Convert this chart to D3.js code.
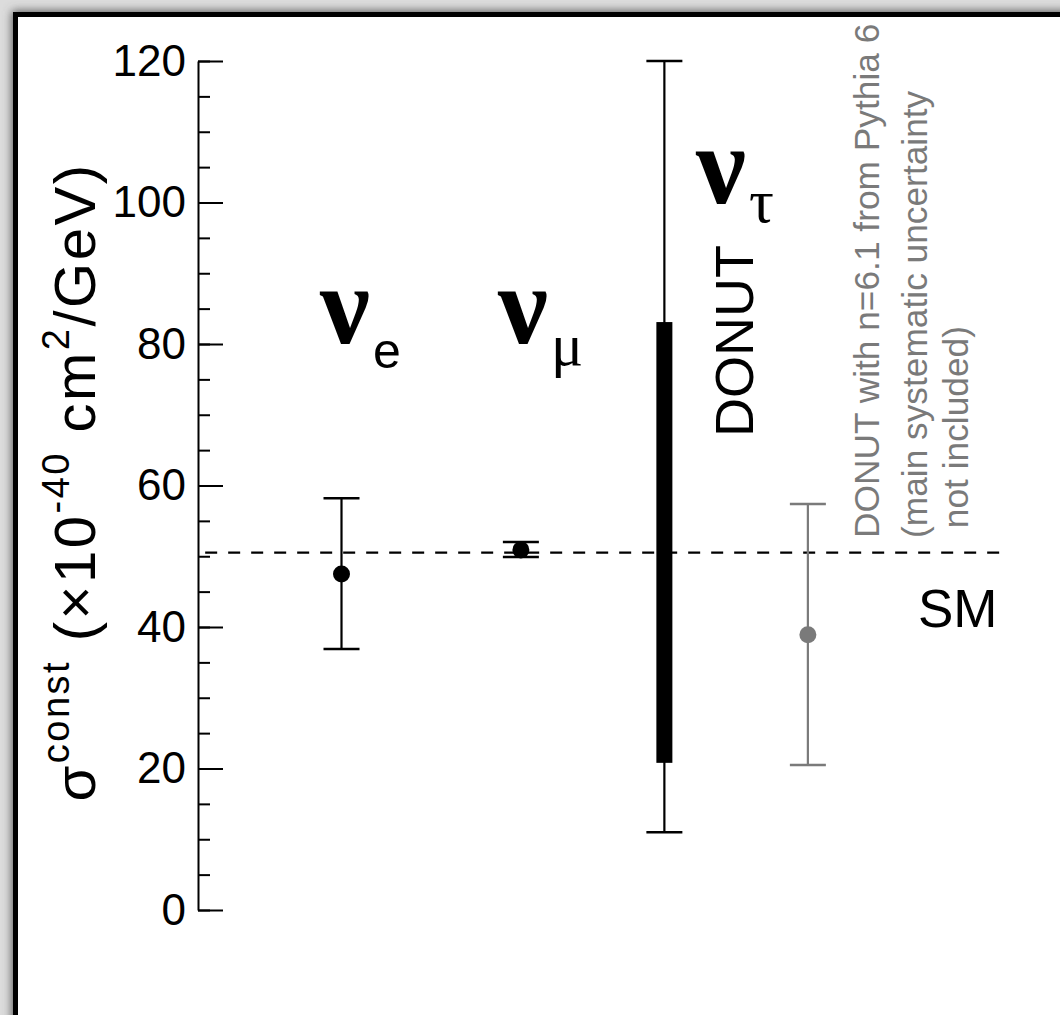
<!DOCTYPE html>
<html>
<head>
<meta charset="utf-8">
<script src="https://cdn.jsdelivr.net/npm/d3@7"></script>
<style>
body { margin: 0; background: #dcdcdc; overflow: hidden; }
text { font-family: "Liberation Sans", Arial, Helvetica, sans-serif; }
</style>
</head>
<body>
<script>
// ---- data ----
var flavours   = ["e", "mu", "tau", "donut_pythia"];
var xPos       = [1, 2.25, 3.25, 4.25];
var central    = [47.5, 50.9, null, 38.9];
var errLow     = [36.9, 49.9, 11.0, 20.5];
var errHigh    = [58.2, 52.0, 120.0, 57.4];
var tauBand    = [20.8, 83.1];      // thick bar on nu_tau
var smValue    = 50.5;
var majorTicks = [0, 20, 40, 60, 80, 100, 120];
var minorTicks = d3.range(0, 121, 5);

var W = 1060, H = 1015;

var svg = d3.select("body").append("svg")
    .attr("width", W)
    .attr("height", H);

// shadow + frame
var defs = svg.append("defs");
var f = defs.append("filter").attr("id", "shadow")
    .attr("x", "-5%").attr("y", "-5%").attr("width", "110%").attr("height", "110%");
f.append("feGaussianBlur").attr("stdDeviation", 5);

svg.append("rect")
    .attr("x", 12).attr("y", 11)
    .attr("width", 1100).attr("height", 1100)
    .attr("fill", "#555")
    .attr("filter", "url(#shadow)");
svg.append("rect")
    .attr("x", 15.5).attr("y", 14.5)
    .attr("width", 1100).attr("height", 1100)
    .attr("fill", "#fff")
    .attr("stroke", "#000")
    .attr("stroke-width", 5);

// scales
var y = d3.scaleLinear().domain([0, 120]).range([910, 61]);
var x = d3.scaleLinear().domain([0, 5.6]).range([198, 198 + 5.6 * 143.5]);

// minor ticks
svg.append("g")
    .attr("transform", "translate(" + x(0) + ",0)")
    .call(d3.axisLeft(y).tickValues(minorTicks).tickSizeInner(-12).tickSizeOuter(0).tickFormat(""))
    .call(function(g) {
        g.select(".domain").remove();
        g.selectAll("line").attr("stroke-width", 2);
    });

// major ticks + labels
svg.append("g")
    .attr("transform", "translate(" + x(0) + ",0)")
    .call(d3.axisLeft(y).tickValues(majorTicks).tickSizeInner(-25).tickSizeOuter(0).tickPadding(12))
    .call(function(g) {
        g.select(".domain").attr("stroke-width", 2);
        g.selectAll("line").attr("stroke-width", 2);
        g.selectAll("text")
            .attr("font-size", 44)
            .attr("fill", "#000")
            .style("font-family", "'Liberation Sans', Arial, sans-serif");
    });

// y axis title
var yt = svg.append("text")
    .attr("transform", "translate(95," + 482 + ") rotate(-90)")
    .attr("text-anchor", "middle")
    .attr("letter-spacing", 2.5)
    .attr("font-size", 58);
yt.append("tspan").text("\u03c3");
yt.append("tspan").attr("font-size", 38).attr("dy", -26).text("const");
yt.append("tspan").attr("dy", 26).text(" (\u00d710");
yt.append("tspan").attr("font-size", 38).attr("dy", -26).text("-40");
yt.append("tspan").attr("dy", 26).text(" cm");
yt.append("tspan").attr("font-size", 38).attr("dy", -26).text("2");
yt.append("tspan").attr("dy", 26).text("/GeV)");

// SM dashed line
svg.append("line")
    .attr("x1", x(0.05)).attr("x2", x(5.6))
    .attr("y1", y(smValue)).attr("y2", y(smValue))
    .attr("stroke", "#000")
    .attr("stroke-width", 2.2)
    .attr("stroke-dasharray", "12,11");

svg.append("text")
    .attr("x", 918).attr("y", y(smValue) + 74)
    .attr("font-size", 53)
    .text("SM");

// error bars
var colors = ["#000", "#000", "#000", "#7a7a7a"];
var capHalf = 18;
flavours.forEach(function(d, i) {
    var cx = x(xPos[i]);
    var g = svg.append("g").attr("stroke", colors[i]).attr("fill", colors[i]);
    g.append("line")
        .attr("x1", cx).attr("x2", cx)
        .attr("y1", y(errLow[i])).attr("y2", y(errHigh[i]))
        .attr("stroke-width", 2.2);
    [errLow[i], errHigh[i]].forEach(function(v) {
        g.append("line")
            .attr("x1", cx - capHalf).attr("x2", cx + capHalf)
            .attr("y1", y(v)).attr("y2", y(v))
            .attr("stroke-width", 2.5);
    });
    if (central[i] !== null) {
        g.append("circle")
            .attr("cx", cx).attr("cy", y(central[i]))
            .attr("r", 8.5)
            .attr("stroke", "none");
    }
});

// thick band for nu_tau
svg.append("rect")
    .attr("x", x(xPos[2]) - 8).attr("width", 16)
    .attr("y", y(tauBand[1]))
    .attr("height", y(tauBand[0]) - y(tauBand[1]))
    .attr("fill", "#000");

// flavour labels
function nuLabel(xc, yb, sub, subSerif, subDy, subSize) {
    var t = svg.append("text").attr("x", xc).attr("y", yb);
    t.append("tspan")
        .style("font-family", "'Liberation Serif', 'Times New Roman', serif")
        .attr("font-size", 112)
        .attr("font-weight", "bold")
        .text("\u03bd");
    t.append("tspan")
        .attr("dx", 3)
        .attr("dy", subDy)
        .attr("font-size", subSize)
        .style("font-family", subSerif ? "'Liberation Serif', 'Times New Roman', serif" : "'Liberation Sans', Arial, sans-serif")
        .text(sub);
}
nuLabel(320, 343, "e", false, 25, 50);
nuLabel(498, 343, "\u03bc", true, 22, 60);
nuLabel(696, 203, "\u03c4", true, 19, 62);

// DONUT vertical labels
svg.append("text")
    .attr("transform", "translate(753,437) rotate(-90)")
    .attr("font-size", 54)
    .text("DONUT");

var notes = ["DONUT with n=6.1 from Pythia 6", "(main systematic uncertainty", " not included)"];
var noteX = [879, 927, 968];
var noteY = [538, 538, 538];
notes.forEach(function(s, i) {
    svg.append("text")
        .attr("transform", "translate(" + noteX[i] + "," + noteY[i] + ") rotate(-90)")
        .attr("font-size", 35.3)
        .attr("fill", "#7a7a7a")
        .style("white-space", "pre")
        .text(s);
});
</script>
</body>
</html>
